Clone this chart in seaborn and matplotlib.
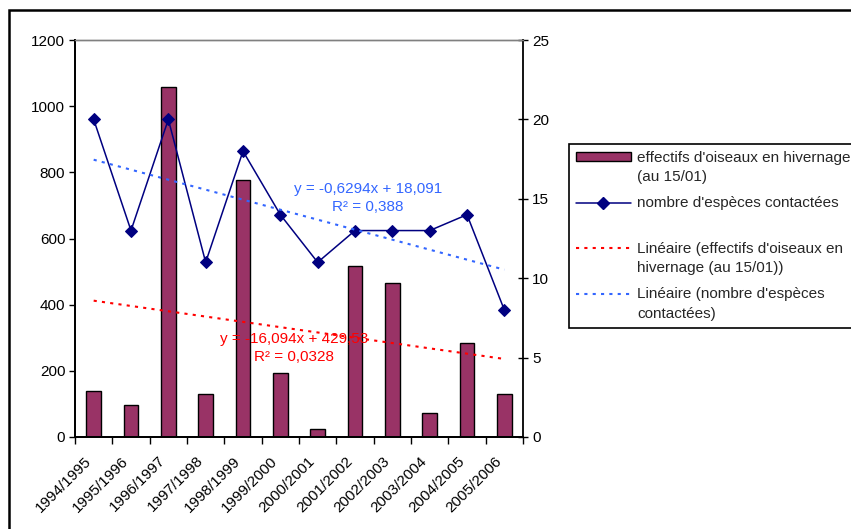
import numpy as np
import pandas as pd
import seaborn as sns
import matplotlib
matplotlib.use("Agg")
import matplotlib.pyplot as plt
from matplotlib.patches import Patch, Rectangle
from matplotlib.lines import Line2D
from matplotlib.transforms import Affine2D
from matplotlib.legend_handler import HandlerLine2D, HandlerPatch

# données
saisons = ["1994/1995", "1995/1996", "1996/1997", "1997/1998", "1998/1999", "1999/2000",
           "2000/2001", "2001/2002", "2002/2003", "2003/2004", "2004/2005", "2005/2006"]
effectifs = [139, 97, 1058, 130, 777, 193, 24, 517, 466, 73, 284, 130]
especes = [20, 13, 20, 11, 18, 14, 11, 13, 13, 13, 14, 8]

eq_effectifs = "y = -16,094x + 429,53\nR² = 0,0328"
eq_especes = "y = -0,6294x + 18,091\nR² = 0,388"

lbl_bar = "effectifs d'oiseaux en hivernage\n(au 15/01)"
lbl_line = "nombre d'espèces contactées\n "
lbl_trend1 = "Linéaire (effectifs d'oiseaux en\nhivernage (au 15/01))"
lbl_trend2 = "Linéaire (nombre d'espèces\ncontactées)"

BAR = "#993366"
NAVY = "#000080"
RED = "#FF0000"
BLUE = "#3366FF"
DOT = (0, (1.5, 2.5))
FS = 11

sns.set_theme(style="white")
plt.rcParams["font.family"] = ["Liberation Sans", "DejaVu Sans"]
plt.rcParams["font.size"] = FS

df = pd.DataFrame({"saison": saisons, "effectifs": effectifs, "especes": especes})
pos = np.arange(len(df))

fig = plt.figure(figsize=(8.51, 5.29), dpi=100)
ax = fig.add_axes([75 / 851, 92 / 529, 448 / 851, 397 / 529])

sns.barplot(data=df, x="saison", y="effectifs", ax=ax, color=BAR, saturation=1,
            width=0.4, edgecolor="black", linewidth=1)
sns.regplot(x=pos, y=df["effectifs"].values, ax=ax, scatter=False, ci=None, truncate=True,
            line_kws=dict(color=RED, lw=1.5, linestyle=DOT))

ax2 = ax.twinx()
sns.lineplot(x=pos, y=df["especes"].values, ax=ax2, color=NAVY, lw=1.1,
             marker="D", markersize=6, markeredgecolor=NAVY, markerfacecolor=NAVY)
sns.regplot(x=pos, y=df["especes"].values, ax=ax2, scatter=False, ci=None, truncate=True,
            line_kws=dict(color=BLUE, lw=1.5, linestyle=DOT))

ax.set_xlim(-0.5, len(df) - 0.5)
ax.set_ylim(0, 1200)
ax.set_yticks(range(0, 1201, 200))
ax2.set_ylim(0, 25)
ax2.set_yticks(range(0, 26, 5))
for a in (ax, ax2):
    a.set_xlabel("")
    a.set_ylabel("")

# axes et graduations
ax.set_xticks(pos)
ax.set_xticklabels(saisons, rotation=45, ha="right", va="top")
ax.set_xticks(np.arange(-0.5, len(df), 1), minor=True)
ax.tick_params(axis="x", which="major", length=0, pad=12, labelsize=FS, colors="black")
ax.tick_params(axis="x", which="minor", bottom=True, direction="out", length=5, width=1, color="black")
ax.tick_params(axis="y", left=True, direction="out", length=4, width=1, pad=3, labelsize=FS, colors="black")
ax2.tick_params(axis="y", right=True, direction="inout", length=7, width=1, pad=3, labelsize=FS, colors="black")

for a in (ax, ax2):
    a.spines["top"].set_color("#808080")
    a.spines["top"].set_linewidth(1)
    for s in ("left", "right", "bottom"):
        a.spines[s].set_color("black")
        a.spines[s].set_linewidth(1.3)
ax.spines["right"].set_visible(False)

ax2.text(0.654, 0.602, eq_especes, transform=ax.transAxes, color=BLUE, ha="center", va="center",
         multialignment="center", fontsize=FS, linespacing=1.4, zorder=10)
ax2.text(0.489, 0.224, eq_effectifs, transform=ax.transAxes, color=RED, ha="center", va="center",
         multialignment="center", fontsize=FS, linespacing=1.4, zorder=10)


# poignées de légende alignées sur la première ligne du texte
class FirstLineLine(HandlerLine2D):
    def create_artists(self, legend, orig_handle, xdescent, ydescent, width, height, fontsize, trans):
        arts = super().create_artists(legend, orig_handle, xdescent, ydescent, width, height, fontsize, trans)
        for art in arts:
            art.set_transform(Affine2D().translate(0, 7.8) + trans)
        return arts


class FirstLinePatch(HandlerPatch):
    def create_artists(self, legend, orig_handle, xdescent, ydescent, width, height, fontsize, trans):
        arts = super().create_artists(legend, orig_handle, xdescent, ydescent, width, height, fontsize, trans)
        for art in arts:
            art.set_transform(Affine2D().translate(0, 7.8) + trans)
        return arts


handles = [
    Patch(facecolor=BAR, edgecolor="black", linewidth=1),
    Line2D([], [], color=NAVY, lw=1.1, marker="D", markersize=6, markerfacecolor=NAVY),
    Line2D([], [], color=RED, lw=1.5, linestyle=DOT),
    Line2D([], [], color=BLUE, lw=1.5, linestyle=DOT),
]
labels = [lbl_bar, lbl_line, lbl_trend1, lbl_trend2]
leg = fig.legend(handles, labels, loc="upper left", bbox_to_anchor=(569 / 851, 1 - 144 / 529),
                 bbox_transform=fig.transFigure, frameon=True, fancybox=False, shadow=False,
                 edgecolor="black", framealpha=1, fontsize=FS, handlelength=3.6, handleheight=0.5,
                 handletextpad=0.4, borderpad=0.45, labelspacing=0.8, borderaxespad=0,
                 handler_map={Patch: FirstLinePatch(), Line2D: FirstLineLine()})
leg.get_frame().set_linewidth(1.2)
for t in leg.get_texts():
    t.set_linespacing(1.48)

# cadre de la zone de graphique
fig.patches.append(Rectangle((9 / 851, -0.05), 1.1, 1 - 10 / 529 + 0.05, transform=fig.transFigure,
                             fill=False, edgecolor="black", lw=1.8))

fig.savefig("out.png", dpi=100)
